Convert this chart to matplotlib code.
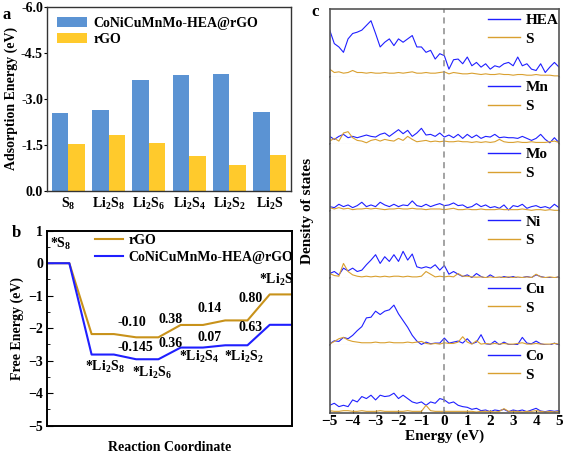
import numpy as np
import matplotlib
matplotlib.use('Agg')
import matplotlib.pyplot as plt
from matplotlib.lines import Line2D

plt.rcParams['font.family'] = ['Liberation Serif', 'DejaVu Serif']
plt.rcParams['font.weight'] = 'bold'
plt.rcParams['axes.labelweight'] = 'bold'
plt.rcParams['mathtext.fontset'] = 'custom'
plt.rcParams['mathtext.rm'] = 'Liberation Serif:bold'
plt.rcParams['mathtext.it'] = 'Liberation Serif:bold'
plt.rcParams['mathtext.bf'] = 'Liberation Serif:bold'

# ---- panel a data (adsorption energies, eV)
species = ['S$_8$', 'Li$_2$S$_8$', 'Li$_2$S$_6$', 'Li$_2$S$_4$', 'Li$_2$S$_2$', 'Li$_2$S']
ads_hea = [-2.55, -2.63, -3.61, -3.77, -3.81, -2.56]
ads_rgo = [-1.52, -1.82, -1.55, -1.13, -0.83, -1.15]

# ---- panel b data (free energy, eV)
g_rgo = [0.0, -2.18, -2.28, -1.90, -1.76, -0.96]
g_hea = [0.0, -2.81, -2.955, -2.595, -2.525, -1.895]
steps_rgo = ['-0.10', '0.38', '0.14', '0.80']
steps_hea = ['-0.145', '0.36', '0.07', '0.63']

# ---- panel c data (PDOS, arbitrary units, 0.2 eV grid)
energy = np.linspace(-5, 5, 51)
dos_hea = [0.69,0.49,0.44,0.36,0.56,0.64,0.66,0.69,0.76,0.83,0.64,0.44,0.51,0.56,0.46,0.56,0.51,0.56,0.61,0.44,
           0.44,0.36,0.39,0.26,0.34,0.31,0.11,0.25,0.26,0.19,0.29,0.16,0.21,0.14,0.19,0.11,0.16,0.14,0.19,0.21,
           0.16,0.29,0.16,0.19,0.11,0.09,0.19,0.06,0.14,0.21,0.14]
dos_hea_s = [0.11,0.06,0.07,0.05,0.06,0.09,0.06,0.06,0.05,0.06,0.05,0.05,0.06,0.05,0.05,0.06,0.05,0.06,0.07,0.05,
             0.05,0.06,0.05,0.05,0.06,0.07,0.04,0.06,0.05,0.04,0.04,0.05,0.04,0.03,0.04,0.03,0.03,0.04,0.03,0.03,
             0.02,0.03,0.03,0.02,0.02,0.03,0.02,0.02,0.02,0.01,0.01]
dos_mn = [0.11,0.065,0.11,0.14,0.09,0.11,0.09,0.11,0.13,0.11,0.10,0.14,0.16,0.11,0.16,0.21,0.15,0.20,0.11,0.16,
          0.23,0.13,0.14,0.11,0.16,0.10,0.13,0.09,0.14,0.08,0.14,0.09,0.13,0.08,0.11,0.10,0.14,0.09,0.10,0.09,
          0.09,0.08,0.11,0.08,0.05,0.08,0.14,0.065,0.015,0.09,0.015]
dos_mn_s = [0.04,0.08,0.04,0.16,0.18,0.09,0.05,0.04,0.015,0.05,0.065,0.04,0.065,0.05,0.04,0.08,0.05,0.11,0.065,0.03,
            0.04,0.05,0.03,0.04,0.03,0.04,0.03,0.03,0.04,0.03,0.03,0.02,0.03,0.02,0.03,0.02,0.03,0.065,0.03,0.02,
            0.02,0.03,0.02,0.02,0.03,0.02,0.02,0.02,0.03,0.04,0.02]
dos_mo = [0.065,0.05,0.10,0.065,0.09,0.05,0.08,0.13,0.065,0.09,0.065,0.13,0.09,0.065,0.10,0.065,0.09,0.08,0.15,0.08,
          0.065,0.10,0.065,0.09,0.11,0.08,0.09,0.12,0.08,0.09,0.05,0.065,0.11,0.065,0.09,0.05,0.065,0.04,0.09,0.015,
          0.08,0.065,0.10,0.04,0.065,0.08,0.05,0.065,0.04,0.10,0.05]
dos_mo_s = [0.05,0.03,0.05,0.03,0.04,0.02,0.03,0.03,0.04,0.03,0.04,0.03,0.02,0.03,0.03,0.04,0.03,0.03,0.04,0.03,
            0.03,0.02,0.03,0.03,0.03,0.02,0.03,0.04,0.02,0.02,0.03,0.02,0.02,0.03,0.02,0.02,0.02,0.03,0.02,0.02,
            0.02,0.02,0.03,0.02,0.01,0.02,0.02,0.01,0.02,0.01,0.01]
dos_ni = [0.07,0.10,0.05,0.15,0.11,0.15,0.10,0.12,0.20,0.27,0.35,0.22,0.32,0.25,0.35,0.25,0.40,0.27,0.36,0.17,
          0.15,0.17,0.15,0.20,0.12,0.19,0.06,0.10,0.06,0.025,0.05,0.01,0.07,0.025,0.0,0.05,0.01,0.0,0.025,0.01,
          0.025,0.0,0.01,0.025,0.01,0.05,0.025,0.01,0.01,0.0,0.025]
dos_ni_s = [0.07,0.04,0.03,0.22,0.10,0.05,0.03,0.02,0.03,0.02,0.03,0.02,0.03,0.02,0.03,0.03,0.02,0.03,0.02,0.02,
            0.03,0.10,0.06,0.02,0.03,0.02,0.03,0.02,0.07,0.03,0.03,0.02,0.015,0.02,0.01,0.02,0.01,0.02,0.01,0.02,
            0.01,0.02,0.01,0.02,0.01,0.06,0.02,0.01,0.02,0.01,0.02]
dos_cu = [0.025,0.07,0.06,0.12,0.10,0.15,0.22,0.28,0.41,0.42,0.51,0.46,0.51,0.53,0.60,0.47,0.37,0.27,0.15,0.065,
          0.015,0.05,0.025,0.035,0.035,0.11,0.035,0.05,0.065,0.035,0.10,0.025,0.05,0.16,0.025,0.015,0.065,0.01,0.05,0.015,
          0.01,0.015,0.12,0.035,0.025,0.065,0.025,0.01,0.005,0.035,0.005]
dos_cu_s = [0.02,0.06,0.10,0.12,0.08,0.06,0.05,0.04,0.04,0.04,0.05,0.04,0.04,0.05,0.04,0.04,0.04,0.05,0.04,0.05,
            0.06,0.03,0.02,0.03,0.02,0.04,0.03,0.03,0.05,0.13,0.05,0.02,0.07,0.02,0.03,0.02,0.03,0.02,0.03,0.02,
            0.02,0.03,0.04,0.02,0.02,0.03,0.02,0.02,0.02,0.03,0.02]
dos_co = [0.11,0.14,0.09,0.11,0.09,0.19,0.16,0.24,0.21,0.26,0.19,0.26,0.24,0.25,0.29,0.21,0.26,0.21,0.16,0.14,
          0.16,0.11,0.16,0.14,0.21,0.19,0.14,0.16,0.11,0.09,0.08,0.05,0.065,0.03,0.04,0.015,0.04,0.03,0.05,0.015,
          0.04,0.025,0.04,0.015,0.04,0.065,0.025,0.015,0.03,0.02,0.03]
dos_co_s = [0.03,0.02,0.02,0.03,0.03,0.02,0.02,0.03,0.02,0.02,0.02,0.03,0.02,0.02,0.02,0.02,0.02,0.03,0.02,0.02,
            0.02,0.11,0.03,0.02,0.02,0.02,0.02,0.02,0.02,0.02,0.02,0.02,0.01,0.02,0.02,0.02,0.01,0.02,0.06,0.02,
            0.02,0.02,0.01,0.02,0.02,0.03,0.02,0.01,0.02,0.01,0.02]
metals = ['HEA', 'Mn', 'Mo', 'Ni', 'Cu', 'Co']
metal_dos = [dos_hea, dos_mn, dos_mo, dos_ni, dos_cu, dos_co]
sulfur_dos = [dos_hea_s, dos_mn_s, dos_mo_s, dos_ni_s, dos_cu_s, dos_co_s]

blue_bar = '#5b93d3'
yellow_bar = '#ffca2c'
gold = '#c8921a'
blue_line = '#1f1fff'
s_col = '#d9a030'
fs = 10

fig = plt.figure(figsize=(5.67, 4.54), dpi=100)

# ================= panel a
ax = fig.add_axes([0.083, 0.580, 0.430, 0.405])
x = np.arange(len(species))
w = 0.41
ax.bar(x - w/2, ads_hea, w, color=blue_bar, label='CoNiCuMnMo-HEA@rGO')
ax.bar(x + w/2, ads_rgo, w, color=yellow_bar, label='rGO')
ax.set_ylim(0, -6)
ax.set_yticks([0, -1.5, -3, -4.5, -6])
ax.set_yticklabels(['0.0', '-1.5', '-3.0', '-4.5', '-6.0'])
ax.set_xlim(-0.53, 5.53)
ax.set_xticks(x)
ax.set_xticklabels(species)
ax.tick_params(axis='x', length=0, labelsize=fs, pad=4)
ax.tick_params(axis='y', direction='out', length=2, labelsize=fs, pad=1)
ax.set_ylabel('Adsorption Energy (eV)', fontsize=fs, labelpad=2)
for s in ax.spines.values():
    s.set_color('#333333')
    s.set_linewidth(1.0)
ax.legend(loc='upper left', frameon=False, fontsize=fs, handlelength=2.2, handleheight=0.75,
          labelspacing=0.25, borderaxespad=0.3, handletextpad=0.45)
fig.text(0.005, 0.958, 'a', fontsize=12, fontweight='bold')

# ================= panel b
ax = fig.add_axes([0.083, 0.0623, 0.432, 0.4295])
def profile(g):
    xs, ys = [], []
    for i, e in enumerate(g):
        xs += [2*i, 2*i + 1]
        ys += [e, e]
    return xs, ys
xr, yr = profile(g_rgo)
xh, yh = profile(g_hea)
ax.plot(xr, yr, color=gold, lw=1.5, label='rGO')
ax.plot(xh, yh, color=blue_line, lw=1.5, label='CoNiCuMnMo-HEA@rGO')
ax.set_xlim(0, 11)
ax.set_ylim(-5, 1)
ax.set_yticks(range(-5, 2))
ax.set_yticks(np.arange(-4.5, 1, 1), minor=True)
ax.set_xticks([])
ax.tick_params(axis='y', which='both', direction='in', labelsize=fs, pad=3)
ax.tick_params(axis='y', which='major', length=4)
ax.tick_params(axis='y', which='minor', length=2)
for s in ax.spines.values():
    s.set_linewidth(1.4)
ax.set_ylabel('Free Energy (eV)', fontsize=fs, labelpad=3)
ax.set_xlabel('Reaction Coordinate', fontsize=fs, labelpad=11)
ax.legend(loc='upper left', bbox_to_anchor=(0.196, 0.985), frameon=False, fontsize=fs, borderpad=0,
          borderaxespad=0, handlelength=2.0, labelspacing=0.3, handletextpad=0.4)
ax.text(0.6, 0.6, '*S$_8$', fontsize=fs, ha='center', va='center')
rgo_lab_pos = [(3.8, -1.83), (5.55, -1.72), (7.3, -1.39), (9.15, -1.08)]
hea_lab_pos = [(3.95, -2.59), (5.55, -2.47), (7.3, -2.28), (9.15, -1.97)]
for t, (xi, yi) in zip(steps_rgo, rgo_lab_pos):
    ax.text(xi, yi, t, fontsize=fs, ha='center', va='center')
for t, (xi, yi) in zip(steps_hea, hea_lab_pos):
    ax.text(xi, yi, t, fontsize=fs, ha='center', va='center')
ax.text(2.6, -3.2, '*Li$_2$S$_8$', fontsize=fs, ha='center', va='center')
ax.text(4.7, -3.37, '*Li$_2$S$_6$', fontsize=fs, ha='center', va='center')
ax.text(6.8, -2.88, '*Li$_2$S$_4$', fontsize=fs, ha='center', va='center')
ax.text(8.85, -2.88, '*Li$_2$S$_2$', fontsize=fs, ha='center', va='center')
ax.text(10.3, -0.52, '*Li$_2$S', fontsize=fs, ha='center', va='center')
fig.text(0.02, 0.478, 'b', fontsize=12, fontweight='bold')

# ================= panel c
left, right, top, bottom = 0.5815, 0.9859, 0.9795, 0.091
h = (top - bottom) / 6
frame = '#555555'
for k, (name, md, sd) in enumerate(zip(metals, metal_dos, sulfur_dos)):
    ax = fig.add_axes([left, top - (k + 1) * h, right - left, h])
    ax.plot(energy, md, color=blue_line, lw=0.8)
    ax.plot(energy, sd, color=s_col, lw=0.8)
    ax.axvline(0, color='#8a8a8a', lw=1.1, ls=(0, (4, 3)))
    ax.set_xlim(-5, 5)
    ax.set_ylim(0, 1)
    ax.set_yticks([])
    ax.spines['left'].set_color(frame)
    ax.spines['right'].set_color(frame)
    ax.spines['left'].set_linewidth(1.2)
    ax.spines['right'].set_linewidth(1.2)
    if k == 0:
        ax.spines['top'].set_color(frame)
        ax.spines['top'].set_linewidth(1.2)
    else:
        ax.spines['top'].set_visible(False)
    if k < 5:
        ax.spines['bottom'].set_color('#d8d8d8')
        ax.spines['bottom'].set_linewidth(0.8)
        ax.set_xticks([])
    else:
        ax.spines['bottom'].set_color(frame)
        ax.spines['bottom'].set_linewidth(1.2)
        ax.set_xticks(range(-5, 6))
        ax.set_xticklabels(['\u2212%d' % abs(v) if v < 0 else str(v) for v in range(-5, 6)])
        ax.tick_params(axis='x', direction='in', length=2, labelsize=11, pad=2)
        ax.set_xlabel('Energy (eV)', fontsize=11, labelpad=1)
    hnd = [Line2D([], [], color=blue_line, lw=1.0), Line2D([], [], color=s_col, lw=1.0)]
    ax.legend(hnd, [name, 'S'], loc='upper left', frameon=False, fontsize=11, borderpad=0,
              handlelength=2.1, labelspacing=0.32, handletextpad=0.35, borderaxespad=0,
              bbox_to_anchor=(0.69, 0.94))
fig.text(0.543, 0.535, 'Density of states', rotation=90, fontsize=11, fontweight='bold',
         ha='center', va='center')
fig.text(0.549, 0.965, 'c', fontsize=12, fontweight='bold')

fig.savefig('out.png', dpi=100)
